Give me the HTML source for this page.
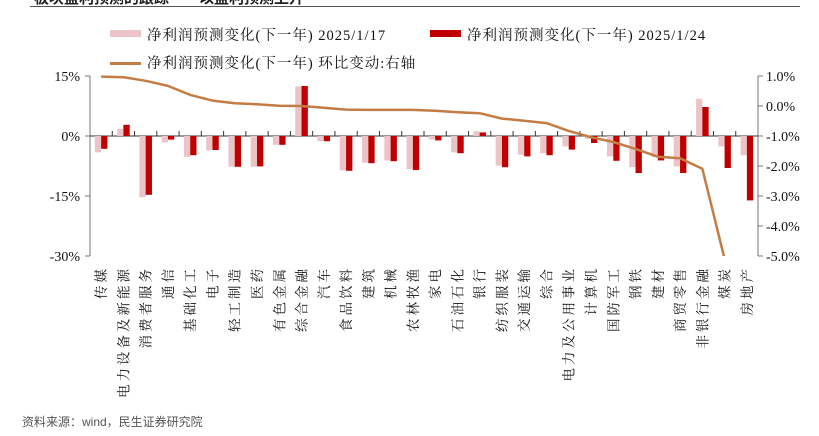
<!DOCTYPE html>
<html><head><meta charset="utf-8"><style>
body{margin:0;background:#fff;width:819px;height:436px;overflow:hidden;position:relative;font-family:"Liberation Serif","Noto Serif CJK SC",serif}
.t{position:absolute;white-space:nowrap}
</style></head><body>
<div class="t" style="left:34px;top:-13px;font:bold 15px 'Liberation Sans','Noto Sans CJK SC',sans-serif;color:#222">板块盈利预测的跟踪——以盈利预测上升</div>
<div style="position:absolute;left:30px;top:6px;width:770px;height:1px;background:#555"></div>
<div style="position:absolute;left:110px;top:30px;width:31px;height:7px;background:#ecc4c7"></div>
<div class="t" style="left:147px;top:24px;font-size:14.5px;color:#111;letter-spacing:1px">净利润预测变化(下一年) 2025/1/17</div>
<div style="position:absolute;left:430px;top:30px;width:31px;height:7px;background:#c00000"></div>
<div class="t" style="left:467px;top:24px;font-size:14.5px;color:#111;letter-spacing:1px">净利润预测变化(下一年) 2025/1/24</div>
<div style="position:absolute;left:110px;top:62px;width:31px;height:3px;background:#c47c45"></div>
<div class="t" style="left:147px;top:52px;font-size:14.5px;color:#111;letter-spacing:1px">净利润预测变化(下一年) 环比变动:右轴</div>
<svg id="c" width="819" height="436" style="position:absolute;left:0;top:0"></svg>
<div class="t" style="left:22px;top:413px;font:12px 'Liberation Sans','Noto Sans CJK SC',sans-serif;color:#555">资料来源：wind，民生证券研究院</div>
<script>
const categories=["传媒","电力设备及新能源","消费者服务","通信","基础化工","电子","轻工制造","医药","有色金属","综合金融","汽车","食品饮料","建筑","机械","农林牧渔","家电","石油石化","银行","纺织服装","交通运输","综合","电力及公用事业","计算机","国防军工","钢铁","建材","商贸零售","非银行金融","煤炭","房地产"];
const seriesJan17=[-4.1,1.8,-15.3,-1.6,-5.2,-3.6,-7.7,-7.7,-2.2,12.4,-1.3,-8.6,-6.7,-6.1,-8.3,-0.9,-4.1,1.2,-7.4,-4.7,-4.3,-2.6,-0.7,-5.1,-7.8,-5.25,-7.6,9.3,-2.6,-4.8];
const seriesJan24=[-3.2,2.8,-14.7,-0.9,-4.8,-3.5,-7.7,-7.6,-2.2,12.5,-1.3,-8.7,-6.8,-6.3,-8.5,-1.1,-4.3,0.9,-7.8,-5.1,-4.8,-3.4,-1.75,-6.2,-9.25,-6.1,-9.25,7.25,-8.0,-16.1];
const seriesChange=[0.98,0.96,0.84,0.67,0.37,0.18,0.09,0.06,0.01,0.0,-0.06,-0.12,-0.13,-0.13,-0.13,-0.16,-0.21,-0.24,-0.42,-0.49,-0.57,-0.83,-1.04,-1.2,-1.43,-1.69,-1.74,-2.09,-5.1,null];
const leftTicks=[15,0,-15,-30];
const leftTickLabels=["15%","0%","-15%","-30%"];
const rightTicks=[1,0,-1,-2,-3,-4,-5];
const rightTickLabels=["1.0%","0.0%","-1.0%","-2.0%","-3.0%","-4.0%","-5.0%"];
const svg=document.getElementById('c'),NS='http://www.w3.org/2000/svg';
const X0=90,X1=758,Y0=76,Y1=256;
const bw=(X1-X0)/categories.length;
const yL=v=>Y0+(15-v)/45*(Y1-Y0);
const yR=v=>Y0+(1-v)/6*(Y1-Y0);
const xC=i=>X0+bw*(i+0.5);
function mk(t,a,p){const e=document.createElementNS(NS,t);for(const k in a)e.setAttribute(k,a[k]);(p||svg).appendChild(e);return e;}
const ax=mk('g',{});

let e=mk('line',{x1:X0,y1:Y0,x2:X0,y2:Y1,stroke:'#777'},ax);

e=mk('line',{x1:X1,y1:Y0,x2:X1,y2:Y1,stroke:'#777'},ax);

leftTicks.forEach((v,i)=>{const y=yL(v);mk('line',{x1:X0-5,y1:y,x2:X0,y2:y,stroke:'#777'},ax);
const t=mk('text',{x:X0-10,y:y+5,'text-anchor':'end','font-size':14,fill:'#111'},ax);t.textContent=leftTickLabels[i];
});
rightTicks.forEach((v,i)=>{const y=yR(v);mk('line',{x1:X1,y1:y,x2:X1+5,y2:y,stroke:'#777'},ax);
const t=mk('text',{x:X1+8,y:y+5,'font-size':14,fill:'#111'},ax);t.textContent=rightTickLabels[i];
});
const z=yL(0);
const bars=mk('g',{});
categories.forEach((c,i)=>{const cx=xC(i);
let v=seriesJan17[i];let r=mk('rect',{x:cx-6.3,y:Math.min(yL(v),z),width:6.3,height:Math.abs(yL(v)-z),fill:'#ecc4c7'},bars);

v=seriesJan24[i];r=mk('rect',{x:cx,y:Math.min(yL(v),z),width:6.3,height:Math.abs(yL(v)-z),fill:'#c00000'},bars);

const t=mk('text',{x:0,y:0,'font-size':13.5,fill:'#111','text-anchor':'end','letter-spacing':3,transform:'translate('+(cx+5)+',266) rotate(-90)'});
t.textContent=c;});
e=mk('line',{x1:X0,y1:z,x2:X1,y2:z,stroke:'#333'},ax);

for(let i=1;i<categories.length;i++){mk('line',{x1:X0+bw*i,y1:z-5,x2:X0+bw*i,y2:z,stroke:'#333'},ax);}
const cp=mk('clipPath',{id:'cl'});mk('rect',{x:X0,y:Y0-5,width:X1-X0,height:Y1-Y0+5},cp);
let d='';seriesChange.forEach((v,i)=>{if(v===null)return;d+=(d?'L':'M')+xC(i)+','+yR(v);});
const ln=mk('path',{d:d,fill:'none',stroke:'#c47c45','stroke-width':2.5,'clip-path':'url(#cl)','stroke-linejoin':'round'});

</script>
</body></html>
